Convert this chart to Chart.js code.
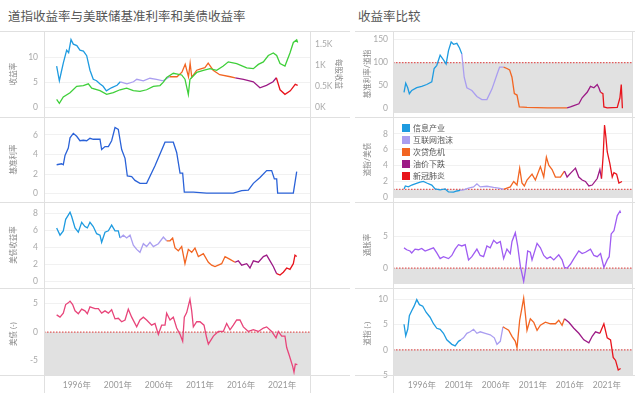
<!DOCTYPE html>
<html>
<head>
<meta charset="utf-8">
<script src="https://cdn.jsdelivr.net/npm/chart.js@4.4.0/dist/chart.umd.min.js"></script>
<style>
  body { margin: 0; width: 640px; height: 398px; overflow: hidden; position: relative; background: #fff;
         font-family: "Noto Sans CJK SC", sans-serif; }
  .title { position: absolute; top: 6px; font-size: 12.5px; color: #555; white-space: nowrap; }
  .box { position: absolute; }
  .hl { position: absolute; height: 1px; background: #e0e0e0; z-index: 5; }
  .vl { position: absolute; width: 1px; background: #e0e0e0; z-index: 5; }
  #legend { position: absolute; left: 402px; top: 122px; z-index: 6; font-size: 8px; color: #555; }
  #legend div { height: 12px; line-height: 12px; white-space: nowrap; }
  #legend span { display: inline-block; width: 8px; height: 8px; margin-right: 3px; vertical-align: -1px; }
</style>
</head>
<body>
<div class="title" style="left:8px">道指收益率与美联储基准利率和美债收益率</div>
<div class="title" style="left:358px">收益率比较</div>
<div id="legend"></div>

<script>
// periods
const periodNames = ['信息产业', '互联网泡沫', '次贷危机', '油价下跌', '新冠肺炎'];
const periodColors = ['#1e9be0', '#aa9ef0', '#f26522', '#9c1a86', '#e8141c'];
const periodStarts = [1990, 2001.3, 2007.1, 2015.4, 2020.2];
const yearTicks = [1996, 2001, 2006, 2011, 2016, 2021];

// left: 收益率 (道指收益率 + 每股收益)
const earningsYield = [[1993.54,8.2],[1993.87,5.3],[1994.1,7.0],[1994.35,8.8],[1994.76,11.4],[1995.0,10.9],[1995.29,13.5],
  [1995.57,12.6],[1996.0,12.3],[1996.38,11.4],[1996.8,11.2],[1997.2,10.3],[1997.6,7.4],[1998.0,5.6],[1998.4,5.3],[1998.8,4.7],
  [1999.2,4.2],[1999.6,3.3],[2000.2,3.9],[2000.9,4.4],[2001.3,5.1],[2002.1,4.7],[2002.9,5.1],[2003.3,5.6],[2004.1,5.3],
  [2004.9,5.8],[2005.7,5.6],[2006.5,5.3],[2007.3,6.1],[2008.2,6.1],[2008.8,7.0],[2009.2,8.6],[2009.6,6.1],[2009.8,8.8],
  [2010.0,6.0],[2010.6,7.4],[2011.0,7.6],[2011.6,7.9],[2012.0,8.8],[2012.6,7.4],[2013.4,6.5],[2014.7,6.1],[2015.3,5.9],
  [2016.3,5.6],[2017.5,5.1],[2018.3,3.9],[2019.1,4.4],[2019.9,5.1],[2020.3,5.9],[2020.75,3.5],[2021.35,2.6],[2022.0,3.3],
  [2022.6,4.6],[2022.9,4.4]];
const dowEps = [[1993.54,190],[1993.87,100],[1994.35,250],[1995.17,350],[1995.98,500],[1996.79,520],[1997.4,560],[1997.81,460],
  [1998.82,400],[1999.63,310],[2000.44,350],[2001.26,420],[2002.07,460],[2002.88,400],[2003.69,380],[2004.5,420],[2005.32,500],
  [2006.13,520],[2006.54,600],[2006.94,710],[2007.75,810],[2008.77,770],[2009.17,670],[2009.58,310],[2009.78,670],[2010.6,830],
  [2011.41,880],[2012.22,920],[2013.03,880],[2013.84,980],[2014.45,1080],[2015.47,1040],[2016.69,940],[2017.5,920],[2018.11,1020],
  [2018.72,1080],[2019.32,1230],[2019.93,1290],[2020.34,1230],[2020.75,1040],[2021.35,980],[2021.96,1290],[2022.37,1540],
  [2022.78,1600],[2022.9,1540]];

// left: 基准利率
const fedRate = [[1993.54,2.95],[1994.15,3.05],[1994.35,2.95],[1994.56,3.9],[1994.96,4.65],[1995.17,5.7],[1995.57,6.15],
  [1995.98,5.85],[1996.38,5.4],[1996.79,5.45],[1997.2,5.4],[1997.6,5.65],[1998.0,5.55],[1998.82,5.55],[1999.02,4.5],[1999.43,4.8],
  [1999.84,4.8],[2000.24,5.4],[2000.65,6.75],[2001.05,6.55],[2001.46,4.5],[2001.87,3.6],[2002.15,1.8],[2002.68,1.75],
  [2003.08,1.35],[2003.69,1.05],[2004.5,1.05],[2005.52,2.85],[2006.74,5.25],[2007.75,5.25],[2008.16,4.2],[2008.57,2.1],
  [2008.89,2.1],[2009.09,0.15],[2010.19,0.15],[2011.81,0.06],[2015.06,0.06],[2016.08,0.3],[2016.89,0.35],[2017.5,1.05],
  [2018.31,1.65],[2019.12,2.35],[2019.73,2.35],[2020.06,1.5],[2020.34,1.5],[2020.46,0.06],[2022.37,0.06],[2022.78,2.25]];

// left: 美债收益率
const treasury = [[1993.54,6.27],[1993.95,5.43],[1994.35,5.93],[1994.64,7.27],[1994.96,7.77],[1995.17,8.1],[1995.37,7.6],
  [1995.78,6.27],[1996.18,5.77],[1996.59,6.93],[1996.99,6.43],[1997.28,6.27],[1997.6,6.93],[1998.0,6.43],[1998.41,5.6],
  [1998.82,5.43],[1999.02,4.6],[1999.43,5.77],[1999.84,5.93],[2000.24,6.6],[2000.65,5.93],[2001.05,5.93],[2001.26,5.1],
  [2001.66,5.43],[2002.07,5.1],[2002.48,5.43],[2002.88,4.27],[2003.29,3.77],[2003.69,3.43],[2004.1,4.43],[2004.5,4.1],
  [2004.91,4.6],[2005.32,4.1],[2005.93,4.43],[2006.54,5.2],[2006.94,4.77],[2007.35,4.77],[2007.67,5.1],[2007.96,3.93],
  [2008.36,3.6],[2008.77,4.1],[2009.17,2.1],[2009.58,3.77],[2009.99,3.43],[2010.39,3.93],[2010.8,2.93],[2011.41,3.27],
  [2012.02,2.27],[2012.42,1.93],[2012.83,1.77],[2013.23,1.93],[2013.64,2.1],[2014.05,2.93],[2014.66,2.6],[2015.26,2.27],
  [2015.67,2.43],[2016.08,1.93],[2016.69,2.1],[2017.09,1.6],[2017.5,2.43],[2018.11,2.27],[2018.72,2.93],[2019.12,3.1],
  [2019.53,2.43],[2019.93,1.77],[2020.34,0.93],[2020.75,0.77],[2021.15,1.1],[2021.56,1.6],[2021.96,1.43],[2022.37,2.1],
  [2022.57,3.1],[2022.78,2.93]];

// left: 美债 (-)
const treasuryGap = [[1993.54,3.0],[1993.95,2.6],[1994.35,3.3],[1994.64,4.8],[1994.96,5.1],[1995.17,5.4],[1995.49,4.8],
  [1995.78,3.7],[1996.18,3.2],[1996.59,4.0],[1996.99,3.7],[1997.28,3.2],[1997.6,4.4],[1998.21,4.1],[1998.62,4.1],[1999.02,3.3],
  [1999.43,3.7],[1999.84,3.3],[2000.24,3.9],[2000.65,2.3],[2001.05,2.4],[2001.46,1.8],[2001.87,2.1],[2002.27,4.0],[2002.68,2.6],
  [2003.29,0.9],[2003.69,2.1],[2004.1,2.6],[2004.5,2.1],[2005.11,1.2],[2005.52,1.5],[2005.93,-0.4],[2006.33,1.2],[2006.74,1.2],
  [2006.94,3.3],[2007.35,2.1],[2007.75,2.6],[2008.16,0.7],[2008.57,-0.4],[2008.89,-1.6],[2009.09,2.6],[2009.38,3.4],
  [2009.78,5.7],[2009.99,3.7],[2010.19,0.9],[2010.6,1.8],[2011.0,1.8],[2011.49,1.2],[2011.81,-1.0],[2012.02,-2.1],[2012.63,-0.7],
  [2013.23,0.1],[2013.84,0.1],[2014.25,1.5],[2014.66,0.4],[2015.06,1.2],[2015.47,2.1],[2015.87,2.1],[2016.28,0.9],[2016.89,0.1],
  [2017.5,0.4],[2018.11,0.1],[2018.72,0.7],[2019.12,0.9],[2019.73,0.1],[2020.26,-1.0],[2020.54,0.1],[2020.95,-0.7],
  [2021.35,-0.7],[2021.56,-2.7],[2021.88,-4.1],[2022.29,-6.0],[2022.45,-7.0],[2022.61,-5.6],[2022.86,-5.7]];

// right: 基准利率/道指
const fedToDow = [[1993.59,35],[1993.82,55],[1994.09,45],[1994.31,32],[1994.63,39],[1995.31,45],[1995.98,48],[1996.66,52],
  [1997.34,58],[1997.66,87],[1998.02,94],[1998.47,116],[1998.92,106],[1999.28,97],[1999.6,126],[1999.96,145],[2000.28,140],
  [2000.73,142],[2001.09,132],[2001.4,119],[2001.72,68],[2002.08,45],[2002.76,39],[2003.44,26],[2004.11,19],[2004.79,19],
  [2005.47,42],[2006.15,74],[2006.51,90],[2007.05,90],[2007.5,87],[2007.86,84],[2008.18,68],[2008.5,32],[2008.86,29],
  [2009.17,3],[2010.21,2],[2012.92,1],[2015.63,1],[2016.08,3],[2016.54,6],[2017.22,10],[2017.66,23],[2018.34,35],[2018.79,48],
  [2019.25,45],[2019.7,52],[2019.92,45],[2020.15,35],[2020.47,32],[2020.6,3],[2021.05,1],[2022.41,2],[2022.77,23],[2022.95,52],
  [2023.1,0]];

// right: 道指/美债
const dowToTreasury = [[1993.59,1.05],[1993.77,1.42],[1994.18,1.31],[1994.63,1.54],[1995.08,1.69],[1995.76,1.91],[1996.21,1.99],
  [1996.66,1.8],[1997.34,1.54],[1997.79,1.05],[1998.47,0.94],[1999.15,1.05],[1999.6,0.67],[2000.28,0.64],[2000.73,0.79],
  [2001.18,0.86],[2001.63,0.94],[2002.31,1.16],[2002.99,1.31],[2003.44,1.69],[2003.89,1.31],[2004.79,1.39],[2005.7,1.24],
  [2006.37,1.16],[2007.05,1.01],[2007.5,1.16],[2007.95,1.31],[2008.41,1.99],[2008.86,1.54],[2009.22,3.67],[2009.53,1.8],
  [2009.85,1.42],[2010.21,2.17],[2010.89,2.92],[2011.34,2.17],[2012.02,3.86],[2012.47,2.55],[2012.83,5.06],[2013.15,4.05],
  [2013.6,3.49],[2014.05,2.55],[2014.73,2.55],[2015.27,3.3],[2015.63,2.55],[2016.17,3.11],[2016.76,3.67],[2017.21,2.55],
  [2017.66,2.17],[2018.11,1.99],[2018.57,1.42],[2019.02,1.54],[2019.7,2.36],[2020.06,3.49],[2020.28,2.36],[2020.51,5.36],
  [2020.69,9.11],[2020.87,7.61],[2021.05,5.74],[2021.41,4.24],[2021.73,2.55],[2021.96,3.11],[2022.32,2.92],[2022.63,1.8],
  [2023.05,1.99]];

// right: 通胀率
const inflation = [[1993.59,3.2],[1993.95,2.9],[1994.4,2.7],[1994.63,2.4],[1995.08,3.0],[1995.53,2.9],[1995.98,3.1],[1996.44,2.7],
  [1997.11,3.0],[1997.57,3.2],[1998.02,2.4],[1998.47,1.5],[1998.92,1.8],[1999.6,1.5],[2000.05,2.0],[2000.5,3.0],[2000.95,3.7],
  [2001.4,3.5],[2001.86,3.7],[2002.31,1.3],[2002.76,1.8],[2003.44,3.0],[2003.89,2.0],[2004.34,1.8],[2004.79,3.5],[2005.24,3.2],
  [2005.7,4.4],[2006.15,3.9],[2006.6,4.2],[2007.05,1.5],[2007.5,3.0],[2007.95,2.3],[2008.18,4.2],[2008.63,5.6],[2008.95,3.5],
  [2009.31,0.3],[2009.76,-2.1],[2009.99,-0.4],[2010.3,2.7],[2010.66,2.5],[2010.89,1.3],[2011.57,3.9],[2012.02,3.2],[2012.47,2.0],
  [2012.92,1.5],[2013.37,1.8],[2013.83,1.3],[2014.5,2.1],[2014.95,1.3],[2015.27,0.1],[2015.63,0.0],[2016.08,0.6],[2016.54,1.5],
  [2017.21,2.7],[2017.66,2.3],[2018.11,2.5],[2018.79,3.0],[2019.25,2.0],[2019.7,1.8],[2020.15,2.3],[2020.6,0.1],[2021.05,1.3],
  [2021.32,1.8],[2021.59,5.4],[2021.96,5.9],[2022.41,8.3],[2022.77,9.0],[2022.86,8.7]];

// right: 道指 (-)
const dowGap = [[1993.59,5.1],[1993.82,2.8],[1994.09,4.1],[1994.31,6.8],[1994.63,7.8],[1994.95,8.7],[1995.31,10.0],[1995.67,9.0],
  [1996.12,8.7],[1996.57,7.5],[1997.11,6.5],[1997.57,5.2],[1998.02,4.3],[1998.47,4.1],[1998.92,3.3],[1999.37,2.0],[2000.05,1.1],
  [2000.5,0.8],[2000.95,1.7],[2001.27,2.0],[2001.63,2.4],[2002.08,3.3],[2002.53,3.6],[2002.99,4.1],[2003.44,3.3],[2003.89,3.6],
  [2004.57,3.3],[2005.24,3.0],[2005.79,2.4],[2006.15,1.1],[2006.6,1.7],[2006.96,4.6],[2007.28,4.3],[2007.73,3.9],[2008.18,2.7],
  [2008.63,1.7],[2008.86,0.4],[2009.22,5.9],[2009.53,8.4],[2009.76,10.3],[2009.99,7.1],[2010.21,3.9],[2010.66,6.2],[2011.12,5.5],
  [2011.57,3.9],[2012.02,4.9],[2012.7,5.5],[2013.37,5.2],[2014.05,5.2],[2014.5,5.9],[2014.95,4.9],[2015.27,6.2],[2015.86,5.5],
  [2016.54,4.3],[2017.21,3.3],[2017.89,2.0],[2018.57,1.4],[2019.02,2.7],[2019.47,3.6],[2020.06,3.3],[2020.6,5.2],[2021.05,2.4],
  [2021.5,2.0],[2021.86,-1.5],[2022.18,-2.1],[2022.54,-4.0],[2022.86,-3.7]];

// tick labels per panel
const ticksL1 = [0, 5, 10];
const ticksL1Right = [0, 500, 1000, 1500];
const ticksL2 = [0, 2, 4, 6];
const ticksL3 = [0, 2, 4, 6, 8];
const ticksL4 = [-5, 0, 5];
const ticksR1 = [0, 50, 100, 150];
const ticksR2 = [0, 2, 4, 6, 8];
const ticksR3 = [0, 5];
const ticksR4 = [-5, 0, 5, 10];

const FONT = "Lato, 'Noto Sans CJK SC', sans-serif";
const PAD = 6;

function periodColor(x) {
    var c = periodColors[0];
    periodStarts.forEach(function (s, i) { if (x >= s) c = periodColors[i]; });
    return c;
}

function toPts(arr) {
    return arr.map(function (d) { return { x: d[0], y: d[1] }; });
}

function lineSet(arr, color, axis) {
    var ds = {
        data: toPts(arr),
        borderColor: color || periodColors[0],
        borderWidth: 1.3,
        pointRadius: 0,
        tension: 0,
        yAxisID: axis || 'y',
        order: 1
    };
    if (!color) {
        ds.segment = {
            borderColor: function (ctx) { return periodColor((ctx.p0.parsed.x + ctx.p1.parsed.x) / 2); }
        };
    }
    return ds;
}

// gray zone under a reference value, with a dotted red line on it
function bandSet(ref, xr) {
    return {
        data: [{ x: xr[0], y: ref }, { x: xr[1], y: ref }],
        borderColor: '#e25a5a',
        borderDash: [1.5, 1.5],
        borderWidth: 1.2,
        backgroundColor: '#e1e1e1',
        fill: 'start',
        pointRadius: 0,
        order: 2
    };
}

function panel(o) {
    var div = document.createElement('div');
    div.className = 'box';
    var h = o.bottom - o.top + PAD * 2 + (o.showX ? 23 - PAD : 0);
    div.style.left = o.left + 'px';
    div.style.top = (o.top - PAD) + 'px';
    div.style.width = o.width + 'px';
    div.style.height = h + 'px';
    var cv = document.createElement('canvas');
    div.appendChild(cv);
    document.body.appendChild(div);

    var scales = {
        x: {
            type: 'linear', min: o.xr[0], max: o.xr[1], display: !!o.showX,
            grid: { display: false, drawTicks: false }, border: { display: false },
            afterBuildTicks: function (s) { s.ticks = yearTicks.map(function (v) { return { value: v }; }); },
            ticks: { callback: function (v) { return v + '年'; }, font: { size: 8.5, family: FONT }, color: '#999',
                     padding: 5, maxRotation: 0, autoSkip: false }
        },
        y: {
            min: o.yr[0], max: o.yr[1],
            afterBuildTicks: function (s) { s.ticks = o.ticks.map(function (v) { return { value: v }; }); },
            afterFit: function (s) { s.width = o.yw; },
            grid: { color: '#f1f1f1', drawTicks: false }, border: { display: false },
            ticks: { font: { size: 8.5, family: FONT }, color: '#aaa', padding: o.tp },
            title: { display: true, text: o.title, font: { size: 7.5, family: FONT }, color: '#888',
                     padding: { top: o.titlePad, bottom: 0 } }
        }
    };
    if (o.showX) {
        scales.x.afterFit = function (s) { s.height = 23; };
    }
    if (o.right) {
        scales.y1 = {
            position: 'right', min: o.right.yr[0], max: o.right.yr[1],
            afterBuildTicks: function (s) { s.ticks = o.right.ticks.map(function (v) { return { value: v }; }); },
            afterFit: function (s) { s.width = 35; },
            grid: { display: false, drawTicks: false }, border: { display: false },
            ticks: { font: { size: 8.5, family: FONT }, color: '#aaa', padding: 5,
                     callback: function (v) { return (v / 1000) + 'K'; } },
            title: { display: true, text: o.right.title, font: { size: 7.5, family: FONT }, color: '#888',
                     padding: { top: 2, bottom: 0 } }
        };
    }

    var chart = new Chart(cv.getContext('2d'), {
        type: 'line',
        data: { datasets: o.datasets },
        options: {
            responsive: true,
            maintainAspectRatio: false,
            animation: false,
            layout: { autoPadding: false, padding: { top: PAD, bottom: o.showX ? 0 : PAD, left: 0, right: o.padRight } },
            plugins: { legend: { display: false }, tooltip: { enabled: false } },
            scales: scales
        }
    });

    // pull the plot area onto the panel frame
    var ca = chart.chartArea;
    var wantBottom = PAD + o.bottom - o.top;
    chart.options.layout.padding = {
        top: PAD - (ca.top - PAD),
        bottom: (o.showX ? 0 : PAD) + (ca.bottom - wantBottom),
        left: 0,
        right: o.padRight
    };
    chart.update();
}

var LX = [1992.0, 2024.4];
var RX = [1992.1, 2024.4];
var tops = [31, 117, 202, 288];
var bottoms = [117, 202, 288, 375];

// left column
panel({ left: 0, width: 345, top: tops[0], bottom: bottoms[0], xr: LX, yr: [-0.9, 14.2], ticks: ticksL1,
        yw: 44, tp: 6, title: '收益率', titlePad: 9, padRight: 0,
        right: { yr: [-104, 1690], ticks: ticksL1Right, title: '每股收益' },
        datasets: [lineSet(dowEps, '#3fcf3a', 'y1'), lineSet(earningsYield)] });
panel({ left: 0, width: 345, top: tops[1], bottom: bottoms[1], xr: LX, yr: [-0.33, 7.3], ticks: ticksL2,
        yw: 44, tp: 6, title: '基准利率', titlePad: 9, padRight: 35,
        datasets: [lineSet(fedRate, '#2a62d8')] });
panel({ left: 0, width: 345, top: tops[2], bottom: bottoms[2], xr: LX, yr: [-0.14, 8.7], ticks: ticksL3,
        yw: 44, tp: 6, title: '美债收益率', titlePad: 9, padRight: 35,
        datasets: [lineSet(treasury)] });
panel({ left: 0, width: 345, top: tops[3], bottom: bottoms[3], xr: LX, yr: [-7.5, 6.8], ticks: ticksL4,
        yw: 44, tp: 6, title: '美债 (-)', titlePad: 9, padRight: 35, showX: true,
        datasets: [bandSet(0, LX), lineSet(treasuryGap, '#e8457a')] });

// right column
panel({ left: 345, width: 295, top: tops[0], bottom: bottoms[0], xr: RX, yr: [-10, 160], ticks: ticksR1,
        yw: 48, tp: 5, title: '基准利率/道指', titlePad: 18, padRight: 8,
        datasets: [bandSet(100, RX), lineSet(fedToDow)] });
panel({ left: 345, width: 295, top: tops[1], bottom: bottoms[1], xr: RX, yr: [-0.08, 9.6], ticks: ticksR2,
        yw: 48, tp: 5, title: '道指/美债', titlePad: 18, padRight: 8,
        datasets: [bandSet(1, RX), lineSet(dowToTreasury)] });
panel({ left: 345, width: 295, top: tops[2], bottom: bottoms[2], xr: RX, yr: [-2.5, 9.8], ticks: ticksR3,
        yw: 48, tp: 5, title: '通胀率', titlePad: 18, padRight: 8,
        datasets: [bandSet(0, RX), lineSet(inflation, '#9f5cf2')] });
panel({ left: 345, width: 295, top: tops[3], bottom: bottoms[3], xr: RX, yr: [-5, 11.5], ticks: ticksR4,
        yw: 48, tp: 5, title: '道指 (-)', titlePad: 18, padRight: 8, showX: true,
        datasets: [bandSet(0, RX), lineSet(dowGap)] });

// frame lines
function line(cls, l, t, w, h) {
    var d = document.createElement('div');
    d.className = cls;
    d.style.left = l + 'px'; d.style.top = t + 'px';
    if (w) d.style.width = w + 'px';
    if (h) d.style.height = h + 'px';
    document.body.appendChild(d);
}
tops.concat([375]).forEach(function (y) {
    line('hl', 0, y, 350);
    line('hl', 355, y, 280);
});
line('vl', 44, 31, 0, 362);
line('vl', 310, 31, 0, 362);
line('vl', 393, 31, 0, 362);
line('vl', 632, 31, 0, 344);

// legend
var lg = document.getElementById('legend');
periodNames.forEach(function (name, i) {
    var row = document.createElement('div');
    row.innerHTML = '<span style="background:' + periodColors[i] + '"></span>' + name;
    lg.appendChild(row);
});
</script>
</body>
</html>
